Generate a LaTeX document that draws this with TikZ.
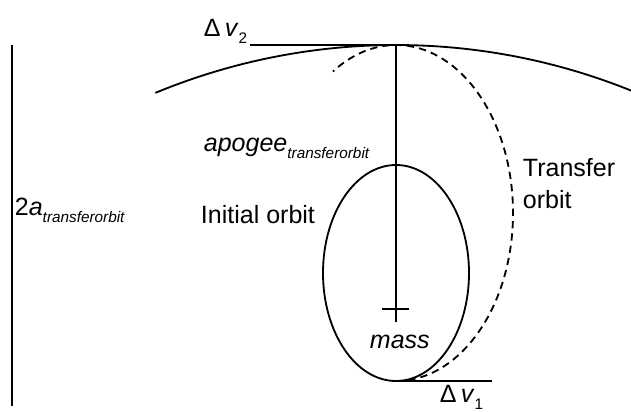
\documentclass[tikz,border=0pt]{standalone}
\usepackage{fontspec}
\setmainfont{Liberation Sans}
\newcommand{\orbsub}[1]{\raisebox{-0.17cm}{\fontsize{10.9}{12}\selectfont #1}}
\begin{document}
\begin{tikzpicture}[line width=1.3pt, every node/.style={font=\fontsize{17.8}{22.8}\selectfont, inner sep=0pt}]
        \useasboundingbox (0,0) rectangle (15.775,10.275);
        % Apogeu e perigeu
        \coordinate (apo) at (9.9,9.15);
        \coordinate (peri) at (9.9,0.75);
        \coordinate (mass) at (9.9,2.55);

        % Orbita final
        \draw (apo) ++(-90:15.72) ++(112.5:15.72)
            arc[start angle=112.5, end angle=68, radius=15.72];

        % Orbita inicial
        \draw (9.9,3.45) ellipse[x radius=1.825, y radius=2.7];

        % Orbita de transferencia
        \draw[dash pattern=on 5.2pt off 3.6pt] (peri)
            arc[start angle=-90, end angle=122.6, x radius=2.925, y radius=4.2];

        % Massa central
        \draw (mass) ++(-0.34,0) -- ++(0.66,0);
        \draw (apo) -- ++(0,-6.925) coordinate (masstick);

        % Impulsos
        \coordinate (dvtwo) at (6.25,9.15);
        \coordinate (dvone) at (12.3,0.75);
        \draw (dvtwo) -- (apo);
        \draw (peri) -- (dvone);

        % Eixo maior
        \coordinate (axtop) at (0.3,9.15);
        \coordinate (axbot) at (0.3,0.125);
        \draw (axtop) -- (axbot);

        % Rotulos
        \node[anchor=base west] (dvtwolbl) at (5.075,9.35) {Δ\,\textit{v}\orbsub{2}};
        \node[anchor=base west] (dvonelbl) at (10.975,0.22) {Δ\,\textit{v}\orbsub{1}};
        \node[anchor=base west] (apolbl) at (5.075,6.475) {\textit{apogee}\orbsub{\textit{transferorbit}}};
        \node[anchor=base west] (axlbl) at (0.35,4.875) {2\textit{a}\orbsub{\textit{transferorbit}}};
        \node[anchor=base west] (initlbl) at (5.0,4.7) {Initial orbit};
        \node[anchor=north west, align=left] (translbl) at (13.05,6.35) {Transfer\\orbit};
        \node[anchor=base west] (masslbl) at (9.225,1.575) {\textit{mass}};
    \end{tikzpicture}
\end{document}
